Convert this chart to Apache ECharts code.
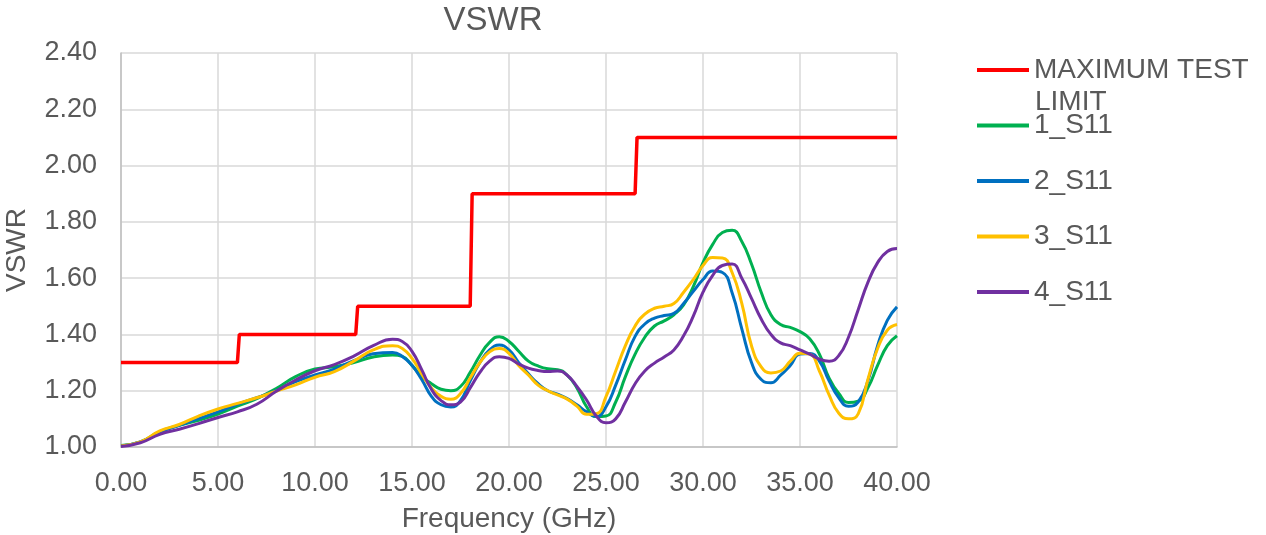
<!DOCTYPE html>
<html>
<head>
<meta charset="utf-8">
<script src="https://cdn.jsdelivr.net/npm/echarts@6/dist/echarts.min.js"></script>
<style>
  html, body { margin: 0; padding: 0; background: #ffffff; }
  #chart { width: 1266px; height: 535px; }
</style>
</head>
<body>
<div id="chart"></div>
<script>
// ---- Data ----
var freq = [0, 1, 2, 3, 4, 5, 6, 7, 8, 9, 10, 11, 12, 13, 14,
  14.5, 15, 15.5, 16, 16.5, 17, 17.5, 18, 18.5, 19, 19.5, 20, 20.5, 21, 21.5, 22, 22.5, 23, 23.5, 24,
  24.5, 25, 25.5, 26, 26.5, 27, 27.5, 28, 28.5, 29, 29.5, 30, 30.5, 31, 31.5, 32, 32.5, 33, 33.5, 34,
  34.5, 35, 35.5, 36, 36.5, 37, 37.5, 38, 38.5, 39, 39.5, 40];

var s11_1 = [1.005, 1.018, 1.055, 1.077, 1.095, 1.117, 1.145, 1.172, 1.208, 1.25, 1.277, 1.285, 1.30, 1.32, 1.327,
  1.322, 1.29, 1.25, 1.225, 1.205, 1.20, 1.215, 1.265, 1.325, 1.372, 1.392, 1.375, 1.34, 1.305, 1.288, 1.278, 1.275, 1.255, 1.21, 1.143,
  1.108, 1.11, 1.16, 1.25, 1.33, 1.39, 1.43, 1.448, 1.47, 1.505, 1.57, 1.655, 1.72, 1.762, 1.77, 1.73, 1.65, 1.55, 1.47, 1.435,
  1.425, 1.41, 1.385, 1.33, 1.245, 1.19, 1.158, 1.163, 1.21, 1.29, 1.36, 1.395];

var s11_2 = [1.004, 1.018, 1.052, 1.077, 1.101, 1.125, 1.152, 1.175, 1.20, 1.232, 1.256, 1.277, 1.307, 1.331, 1.336,
  1.322, 1.29, 1.24, 1.18, 1.15, 1.142, 1.165, 1.235, 1.30, 1.345, 1.362, 1.345, 1.30, 1.26, 1.225, 1.20, 1.188, 1.172, 1.15, 1.125,
  1.108, 1.143, 1.22, 1.31, 1.393, 1.437, 1.458, 1.467, 1.475, 1.51, 1.553, 1.595, 1.625, 1.62, 1.548, 1.42, 1.30, 1.24, 1.228, 1.255,
  1.29, 1.33, 1.332, 1.305, 1.235, 1.175, 1.145, 1.16, 1.235, 1.36, 1.45, 1.498];

var s11_3 = [1.004, 1.018, 1.057, 1.08, 1.11, 1.135, 1.155, 1.175, 1.198, 1.221, 1.248, 1.268, 1.305, 1.345, 1.36,
  1.35, 1.315, 1.26, 1.21, 1.18, 1.17, 1.19, 1.245, 1.30, 1.338, 1.35, 1.333, 1.29, 1.256, 1.22, 1.20, 1.185, 1.17, 1.145, 1.116,
  1.118, 1.179, 1.27, 1.36, 1.43, 1.472, 1.493, 1.50, 1.51, 1.55, 1.595, 1.645, 1.673, 1.672, 1.62, 1.51, 1.36, 1.285, 1.263, 1.27,
  1.305, 1.333, 1.33, 1.27, 1.185, 1.12, 1.10, 1.118, 1.24, 1.35, 1.415, 1.435];

var s11_4 = [1.002, 1.015, 1.045, 1.063, 1.083, 1.105, 1.125, 1.152, 1.198, 1.238, 1.271, 1.293, 1.323, 1.36, 1.383,
  1.375, 1.34, 1.275, 1.205, 1.165, 1.15, 1.16, 1.21, 1.265, 1.305, 1.321, 1.315, 1.295, 1.28, 1.272, 1.268, 1.27, 1.255, 1.215, 1.167,
  1.11, 1.086, 1.10, 1.16, 1.225, 1.27, 1.298, 1.32, 1.345, 1.395, 1.465, 1.55, 1.61, 1.645, 1.65, 1.60, 1.528, 1.455, 1.40, 1.37,
  1.36, 1.345, 1.33, 1.312, 1.305, 1.325, 1.39, 1.488, 1.585, 1.655, 1.695, 1.705];

var limitFreq = [0, 6.0, 6.1, 12.1, 12.2, 18.0, 18.1, 26.5, 26.6, 40];
var limitVals = [1.3, 1.3, 1.4, 1.4, 1.5, 1.5, 1.9, 1.9, 2.1, 2.1];

var seriesNames = ['MAXIMUM TEST LIMIT', '1_S11', '2_S11', '3_S11', '4_S11'];
var xTicks = { min: 0, max: 40, interval: 5 };
var yTicks = { min: 1.0, max: 2.4, interval: 0.2 };

// ---- Build ----
function pairs(xs, ys) { return xs.map(function (x, i) { return [x, ys[i]]; }); }

var FONT = "'Liberation Sans', Arial, sans-serif";
var TXT = '#595959';
var colors = ['#FF0000', '#00B050', '#0070C0', '#FFC000', '#7030A0'];
var curves = [s11_1, s11_2, s11_3, s11_4];

var series = [{
  name: seriesNames[0], type: 'line', data: pairs(limitFreq, limitVals),
  showSymbol: false, symbol: 'none', smooth: false,
  lineStyle: { color: colors[0], width: 3.5 }, itemStyle: { color: colors[0] }, z: 2
}];
curves.forEach(function (c, k) {
  series.push({
    name: seriesNames[k + 1], type: 'line', data: pairs(freq, c),
    showSymbol: false, symbol: 'none', smooth: 0.5,
    lineStyle: { color: colors[k + 1], width: 3 }, itemStyle: { color: colors[k + 1] }, z: 3 + k
  });
});

var chart = echarts.init(document.getElementById('chart'), null, { renderer: 'canvas' });
chart.setOption({
  animation: false,
  backgroundColor: '#ffffff',
  textStyle: { fontFamily: FONT },
  title: {
    text: 'VSWR', left: 488, top: -1, textAlign: 'center',
    textStyle: { fontFamily: FONT, fontSize: 33, fontWeight: 'normal', color: TXT }
  },
  grid: { left: 121, right: 369, top: 53, bottom: 88, containLabel: false, outerBoundsMode: 'none' },
  legend: {
    orient: 'vertical', left: 972, top: 51, itemWidth: 52, itemHeight: 4, itemGap: 27.5,
    icon: 'rect', data: seriesNames,
    formatter: function (n) { return n === seriesNames[0] ? 'MAXIMUM TEST' : n; },
    textStyle: { fontFamily: FONT, fontSize: 28, color: TXT, lineHeight: 28 }
  },
  graphic: [{
    type: 'text', left: 1035, top: 88,
    style: { text: 'LIMIT', font: '28px ' + FONT, fill: TXT }
  }],
  xAxis: {
    type: 'value', min: xTicks.min, max: xTicks.max, interval: xTicks.interval,
    name: 'Frequency (GHz)', nameLocation: 'middle', nameGap: 58,
    nameTextStyle: { fontFamily: FONT, fontSize: 28, color: TXT },
    axisLine: { show: true, lineStyle: { color: '#BFBFBF', width: 1.5 } },
    axisTick: { show: false },
    axisLabel: { margin: 23, fontSize: 27, color: TXT, fontFamily: FONT,
      formatter: function (v) { return v.toFixed(2); } },
    splitLine: { show: true, lineStyle: { color: '#D9D9D9', width: 1.5 } }
  },
  yAxis: {
    type: 'value', min: yTicks.min, max: yTicks.max, interval: yTicks.interval,
    name: 'VSWR', nameLocation: 'middle', nameGap: 90,
    nameTextStyle: { fontFamily: FONT, fontSize: 28, color: TXT },
    axisLine: { show: true, lineStyle: { color: '#BFBFBF', width: 1.5 } },
    axisTick: { show: false },
    axisLabel: { margin: 24, fontSize: 27, color: TXT, fontFamily: FONT,
      formatter: function (v) { return v.toFixed(2); } },
    splitLine: { show: true, lineStyle: { color: '#D9D9D9', width: 1.5 } }
  },
  series: series
});
</script>
</body>
</html>
